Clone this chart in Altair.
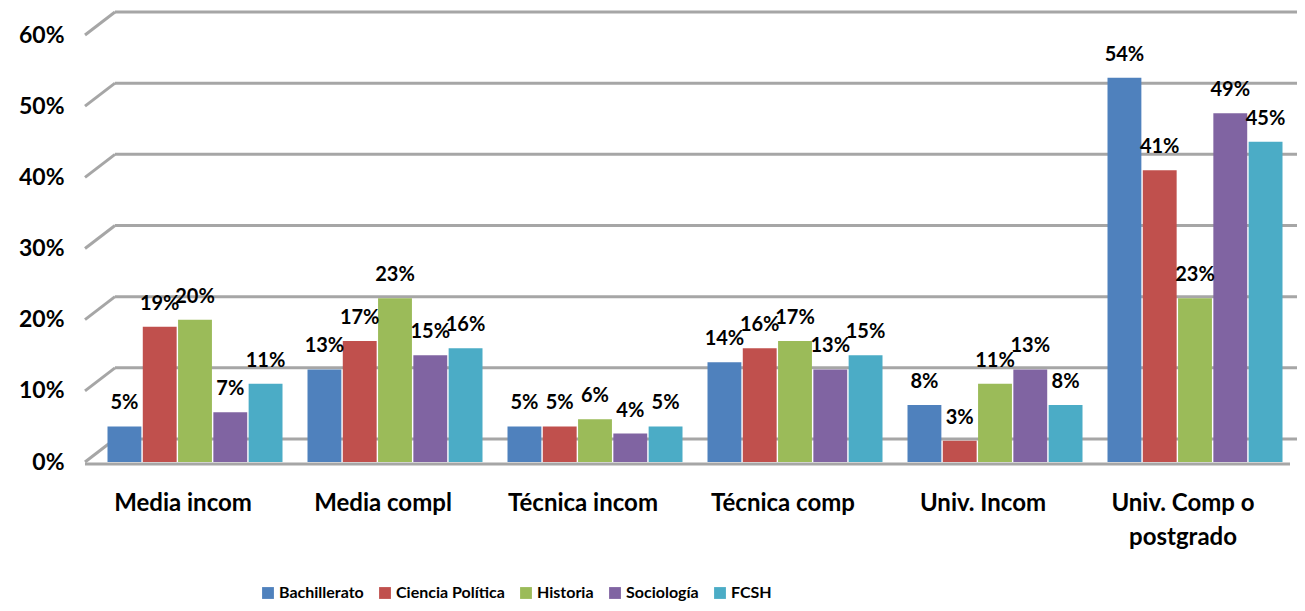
import altair as alt
import pandas as pd

categories = ["Media incom", "Media compl", "Técnica incom", "Técnica comp",
              "Univ. Incom", "Univ. Comp o postgrado"]
series = ["Bachillerato", "Ciencia Política", "Historia", "Sociología", "FCSH"]
bachillerato = [5, 13, 5, 14, 8, 54]
ciencia_politica = [19, 17, 5, 16, 3, 41]
historia = [20, 23, 6, 17, 11, 23]
sociologia = [7, 15, 4, 13, 13, 49]
fcsh = [11, 16, 5, 15, 8, 45]
colors = ["#4F81BD", "#C0504D", "#9BBB59", "#8064A2", "#4BACC6"]
y_ticks = [0, 10, 20, 30, 40, 50, 60]

values = [bachillerato, ciencia_politica, historia, sociologia, fcsh]
rows = []
for s, vals in zip(series, values):
    for c, v in zip(categories, vals):
        rows.append({"cat": c, "serie": s, "val": v, "lbl": f"{v}%"})
df = pd.DataFrame(rows)
grid_df = pd.DataFrame({"t": y_ticks})

W, H = 1200, 427
FONT = "Lato"
GRID = "#A6A6A6"

yscale = alt.Scale(domain=[0, 60])
xscale = alt.Scale(domain=categories, paddingInner=0.125, paddingOuter=0.0625)
yaxis = alt.Axis(values=y_ticks, grid=False, domain=False, ticks=False,
                 labelExpr="datum.value + '%'", labelFont=FONT, labelFontSize=23,
                 labelFontWeight="bold", labelColor="#000", labelPadding=31)

slant = alt.Chart(grid_df).mark_rule(color=GRID, strokeWidth=3, y2Offset=-23).encode(
    y=alt.Y("t:Q", scale=yscale, axis=yaxis, title=None),
    y2="t:Q",
    x=alt.value(-10), x2=alt.value(20),
)
back = alt.Chart(grid_df).mark_rule(color=GRID, strokeWidth=3, yOffset=-23).encode(
    y=alt.Y("t:Q", scale=yscale, axis=yaxis, title=None),
    x=alt.value(20), x2=alt.value(W + 5),
)
floor = alt.Chart(grid_df[grid_df.t == 0]).mark_rule(color=GRID, strokeWidth=3, yOffset=2).encode(
    y=alt.Y("t:Q", scale=yscale, axis=yaxis, title=None),
    x=alt.value(-10), x2=alt.value(W - 5),
)

base = alt.Chart(df).encode(
    x=alt.X("cat:N", scale=xscale, sort=categories, title=None,
            axis=alt.Axis(labelAngle=0, domain=False, ticks=False, labelFont=FONT,
                          labelFontSize=24, labelFontWeight="bold", labelColor="#000",
                          labelPadding=29, labelOffset=-12, labelLimit=300,
                          labelLineHeight=34,
                          labelExpr="datum.label == 'Univ. Comp o postgrado' ? ['Univ. Comp o', 'postgrado'] : datum.label")),
    xOffset=alt.XOffset("serie:N", sort=series, scale=alt.Scale(paddingInner=0.04)),
)

bars = base.mark_bar().encode(
    y=alt.Y("val:Q", scale=yscale, title=None, axis=yaxis),
    color=alt.Color("serie:N", sort=series, scale=alt.Scale(domain=series, range=colors),
                    legend=alt.Legend(title=None, orient="none", direction="horizontal",
                                      legendX=165, legendY=550, symbolType="square",
                                      symbolSize=140, symbolStrokeWidth=0, labelFont=FONT,
                                      labelFontSize=16, labelFontWeight="bold",
                                      labelColor="#000", columnPadding=13, labelOffset=3,
                                      labelLimit=300)),
)

text = base.mark_text(baseline="bottom", dy=-13, font=FONT, fontSize=20,
                      fontWeight="bold", color="#000").encode(
    y=alt.Y("val:Q", scale=yscale),
    text="lbl:N",
)

chart = alt.layer(slant, back, floor, bars, text).properties(
    width=W, height=H,
    autosize=alt.AutoSizeParams(type="none"),
    padding={"left": 87, "top": 27, "right": 2, "bottom": 141},
).configure_view(stroke=None)

chart.save("out.html", embed_options={"renderer": "svg", "actions": False})
